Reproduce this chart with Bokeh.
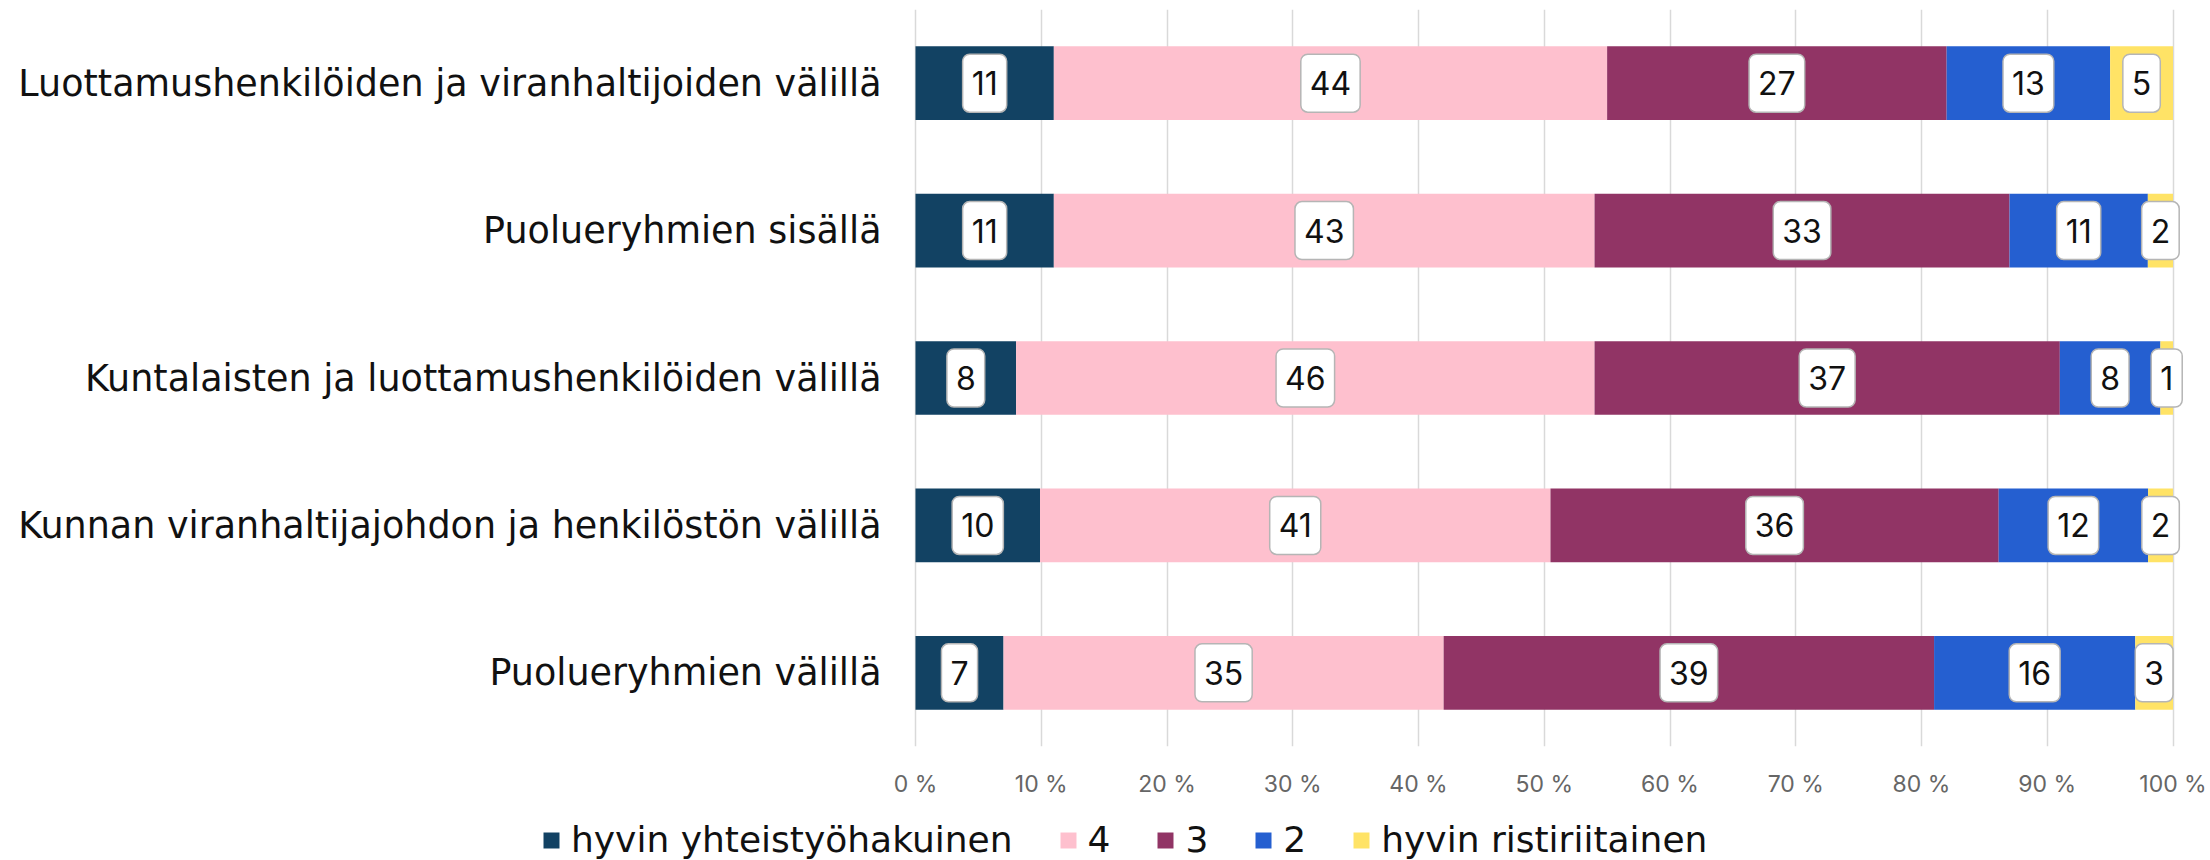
from bokeh.plotting import figure
from bokeh.layouts import column
from bokeh.models import (ColumnDataSource, FactorRange, FixedTicker, PrintfTickFormatter,
                          Legend, LegendItem, Range1d)
from bokeh.core.properties import value
from bokeh.embed import file_html
from bokeh.resources import INLINE

categories = [
    "Luottamushenkilöiden ja viranhaltijoiden välillä",
    "Puolueryhmien sisällä",
    "Kuntalaisten ja luottamushenkilöiden välillä",
    "Kunnan viranhaltijajohdon ja henkilöstön välillä",
    "Puolueryhmien välillä",
]
series_names = ["hyvin yhteistyöhakuinen", "4", "3", "2", "hyvin ristiriitainen"]
very_cooperative = [11, 11, 8, 10, 7]
four = [44, 43, 46, 41, 35]
three = [27, 33, 37, 36, 39]
two = [13, 11, 8, 12, 16]
very_conflicting = [5, 2, 1, 2, 3]
colors = ["#124263", "#FEC0CE", "#913465", "#255FD0", "#FFE366"]
x_ticks = [0, 10, 20, 30, 40, 50, 60, 70, 80, 90, 100]

FONT = "Inter"
LABEL_FONT = "DejaVu Sans"
series = [very_cooperative, four, three, two, very_conflicting]
keys = ["s0", "s1", "s2", "s3", "s4"]

totals = [sum(s[i] for s in series) for i in range(len(categories))]
data = {"cat": categories, "zero": [0] * len(categories)}
for k, s in zip(keys, series):
    data[k] = [v / t * 100 for v, t in zip(s, totals)]
source = ColumnDataSource(data)

lab_cat, lab_x, lab_txt = [], [], []
for i, c in enumerate(categories):
    left = 0.0
    for s in series:
        w = s[i] / totals[i] * 100
        lab_cat.append(c)
        lab_x.append(left + w / 2)
        lab_txt.append(str(s[i]))
        left += w
lab_source = ColumnDataSource(dict(cat=lab_cat, x=lab_x, txt=lab_txt))

# layout: the 0..100 % scale spans page px 915..2172.5 of a 2210 px wide frame
PX_PER_PCT = 12.575
X0_PX = 915
W = 2210

p = figure(
    y_range=FactorRange(factors=list(reversed(categories)), range_padding=0),
    x_range=(-X0_PX / PX_PER_PCT, (W - X0_PX) / PX_PER_PCT),
    width=W, height=800,
    min_border_left=0, min_border_right=0, min_border_top=9, min_border_bottom=49,
    output_backend="svg", toolbar_location=None,
)
p.outline_line_color = None
p.background_fill_color = "white"
p.border_fill_color = "white"

renderers = p.hbar_stack(keys, y="cat", height=0.5, color=colors, source=source,
                         line_color=None)

# category labels
p.text(x="zero", y="cat", text="cat", source=source, x_offset=-34,
       text_align="right", text_baseline="middle",
       text_font=value(LABEL_FONT), text_font_size="36.5px", text_color="#111111")

# value labels
p.text(x="x", y="cat", text="txt", source=lab_source,
       text_align="center", text_baseline="middle",
       text_font=value(FONT), text_font_size="32px", text_color="#111111",
       background_fill_color="white", border_line_color="#b5b5b5", border_line_width=1.5,
       border_radius=7, padding=(9, 17))

p.yaxis.visible = False
p.xaxis.ticker = FixedTicker(ticks=x_ticks)
p.xaxis.formatter = PrintfTickFormatter(format="%d %%")
p.xaxis.axis_line_color = None
p.xaxis.major_tick_line_color = None
p.xaxis.minor_tick_line_color = None
p.xaxis.major_label_text_font = FONT
p.xaxis.major_label_text_font_size = "23px"
p.xaxis.major_label_text_color = "#666666"
p.xaxis.major_label_standoff = 17

p.ygrid.grid_line_color = None
p.xgrid.ticker = FixedTicker(ticks=x_ticks)
p.xgrid.grid_line_color = "#d9d9d9"
p.xgrid.grid_line_width = 1.5

# legend strip (separate figure so the legend is not clipped by the bar frame);
# its zero-height bars lie outside its x range, so only the legend shows
lp = figure(
    y_range=FactorRange(factors=list(reversed(categories))),
    x_range=Range1d(300, 400),
    width=W, height=60,
    min_border_left=0, min_border_right=0, min_border_top=0, min_border_bottom=0,
    output_backend="svg", toolbar_location=None,
)
lp.axis.visible = False
lp.grid.visible = False
lp.outline_line_color = None
lp.border_fill_color = "white"
lp.background_fill_color = "white"
lp_renderers = lp.hbar_stack(keys, y="cat", height=0, color=colors, source=source,
                             line_color=None)

legend = Legend(
    items=[LegendItem(label=n, renderers=[r]) for n, r in zip(series_names, lp_renderers)],
    orientation="horizontal", location=(541, 0),
    glyph_width=20, glyph_height=20, label_standoff=10, spacing=45,
    label_text_font=LABEL_FONT, label_text_font_size="36px", label_text_color="#111111",
    padding=0, margin=0, border_line_color=None, background_fill_alpha=0,
)
lp.add_layout(legend, "center")

layout = column(p, lp, spacing=0)
open("out.html", "w").write(file_html(layout, INLINE))
